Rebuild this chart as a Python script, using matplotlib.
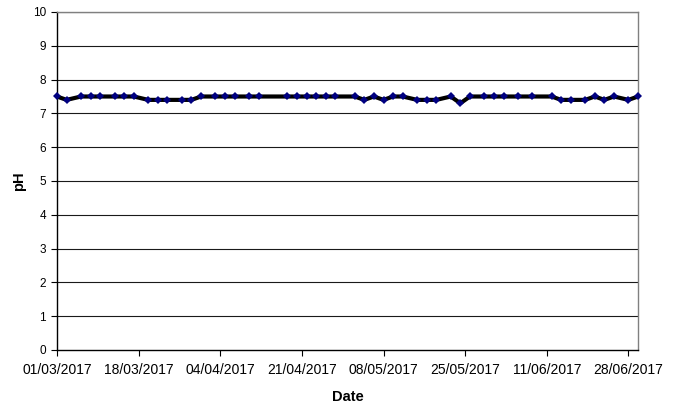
import matplotlib
matplotlib.use("Agg")
import matplotlib.pyplot as plt
import matplotlib.dates as mdates
import pandas as pd

plt.rcParams['font.family'] = ['Liberation Sans', 'DejaVu Sans']

dates = ["01/03/2017", "03/03/2017", "06/03/2017", "08/03/2017", "10/03/2017",
         "13/03/2017", "15/03/2017", "17/03/2017", "20/03/2017", "22/03/2017",
         "24/03/2017", "27/03/2017", "29/03/2017", "31/03/2017", "03/04/2017",
         "05/04/2017", "07/04/2017", "10/04/2017", "12/04/2017", "18/04/2017",
         "20/04/2017", "22/04/2017", "24/04/2017", "26/04/2017", "28/04/2017",
         "02/05/2017", "04/05/2017", "06/05/2017", "08/05/2017", "10/05/2017",
         "12/05/2017", "15/05/2017", "17/05/2017", "19/05/2017", "22/05/2017",
         "24/05/2017", "26/05/2017", "29/05/2017", "31/05/2017", "02/06/2017",
         "05/06/2017", "08/06/2017", "12/06/2017", "14/06/2017", "16/06/2017",
         "19/06/2017", "21/06/2017", "23/06/2017", "25/06/2017", "28/06/2017",
         "30/06/2017"]
ph = [7.5, 7.4, 7.5, 7.5, 7.5,
      7.5, 7.5, 7.5, 7.4, 7.4,
      7.4, 7.4, 7.4, 7.5, 7.5,
      7.5, 7.5, 7.5, 7.5, 7.5,
      7.5, 7.5, 7.5, 7.5, 7.5,
      7.5, 7.4, 7.5, 7.4, 7.5,
      7.5, 7.4, 7.4, 7.4, 7.5,
      7.3, 7.5, 7.5, 7.5, 7.5,
      7.5, 7.5, 7.5, 7.4, 7.4,
      7.4, 7.5, 7.4, 7.5, 7.4,
      7.5]
x_ticks = ["01/03/2017", "18/03/2017", "04/04/2017", "21/04/2017",
           "08/05/2017", "25/05/2017", "11/06/2017", "28/06/2017"]
x_range = ["01/03/2017", "30/06/2017"]
y_ticks = list(range(0, 11))

d = pd.to_datetime(dates, format="%d/%m/%Y")
xt = pd.to_datetime(x_ticks, format="%d/%m/%Y")
xr = pd.to_datetime(x_range, format="%d/%m/%Y")

fig = plt.figure(figsize=(6.85, 4.12), dpi=100)
ax = fig.add_axes([57/685, 1 - 350/412, (638-57)/685, (350-12)/412])

for yv in y_ticks[1:]:
    ax.axhline(yv, color='#1a1a1a', linewidth=0.8, zorder=1)

ax.plot(d, ph, color='black', linewidth=3, zorder=3)
ax.plot(d, ph, linestyle='none', marker='D', markersize=4.5,
        markeredgewidth=0, color='#000080', zorder=4, clip_on=False)

ax.set_xlim(xr[0], xr[1])
ax.set_ylim(0, 10)
ax.set_yticks(y_ticks)
ax.set_xticks(xt)
ax.xaxis.set_major_formatter(mdates.DateFormatter('%d/%m/%Y'))

for s in ['top', 'right']:
    ax.spines[s].set_color('#808080')
    ax.spines[s].set_linewidth(1)
for s in ['left', 'bottom']:
    ax.spines[s].set_color('black')
    ax.spines[s].set_linewidth(1)

ax.tick_params(axis='both', direction='out', length=4, width=0.8,
               colors='black')
ax.tick_params(axis='x', labelsize=10, pad=5)
ax.tick_params(axis='y', labelsize=8.5, pad=4)

ax.set_xlabel('Date', fontsize=10.5, fontweight='bold', labelpad=10)
ax.set_ylabel('pH', fontsize=10.5, fontweight='bold', labelpad=5)

fig.savefig('out.png', dpi=100, facecolor='white')
